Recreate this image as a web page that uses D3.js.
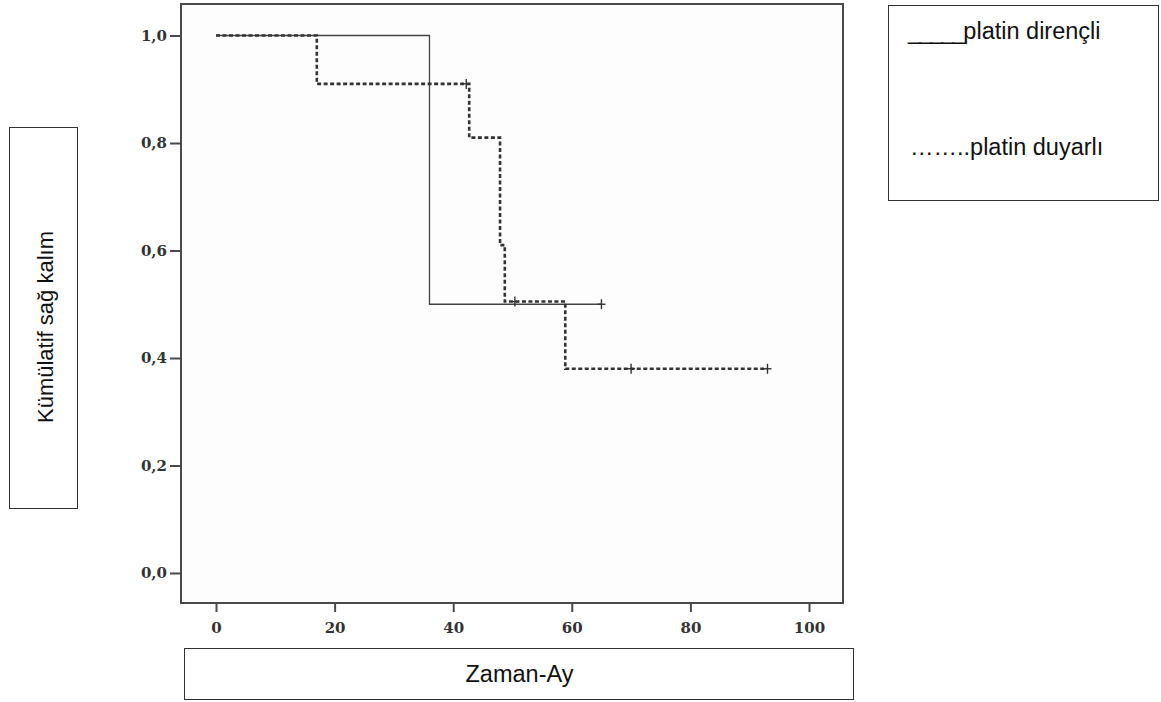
<!DOCTYPE html>
<html><head><meta charset="utf-8">
<script src="https://cdn.jsdelivr.net/npm/d3@7"></script>
<style>body{margin:0;background:#fff}svg{display:block}</style>
</head><body>
<svg id="c" width="1161" height="702"></svg>
<script>
// ---- data ----
const xTicks = [0, 20, 40, 60, 80, 100];
const yTicks = [0.0, 0.2, 0.4, 0.6, 0.8, 1.0];
const resistantStepTimes = [0, 36];
const resistantStepSurv = [1.0, 0.50];
const resistantEndTime = 65;
const resistantCensor = [65];
const sensitiveStepTimes = [0, 17, 42.7, 47.9, 48.7, 58.9];
const sensitiveStepSurv = [1.0, 0.91, 0.81, 0.61, 0.505, 0.38];
const sensitiveEndTime = 93;
const sensitiveCensor = [42.2, 50.4, 70, 93];
const yTitle = "Kümülatif sağ kalım";
const xTitle = "Zaman-Ay";
const legendPrefixes = ["_____", "……."];
const legendNames = ["platin dirençli", ".platin duyarlı"];

const svg = d3.select("#c");
const x = d3.scaleLinear().domain([0, 100]).range([216, 809]);
const y = d3.scaleLinear().domain([0, 1]).range([573, 35.5]);
const frame = {l: 181, t: 4, r: 843, b: 603};

// plot frame
svg.append("rect").attr("x", frame.l).attr("y", frame.t)
  .attr("width", frame.r - frame.l).attr("height", frame.b - frame.t)
  .attr("fill", "#fdfdfd").attr("stroke", "#4a4a4a").attr("stroke-width", 2);

const fmt = v => d3.format(".1f")(v).replace(".", ",");
const yAxis = svg.append("g").attr("transform", `translate(${frame.l},0)`)
  .call(d3.axisLeft(y).tickValues(yTicks).tickFormat(fmt).tickSize(11).tickPadding(3));
const xAxis = svg.append("g").attr("transform", `translate(0,${frame.b})`)
  .call(d3.axisBottom(x).tickValues(xTicks).tickSize(9).tickPadding(10));
[yAxis, xAxis].forEach(a => {
  a.select(".domain").remove();
  a.selectAll(".tick line").attr("stroke", "#4a4a4a").attr("stroke-width", 2);
  a.selectAll(".tick text").attr("fill", "#333")
    .style("font-family", "'DejaVu Serif', 'Liberation Serif', serif")
    .style("font-weight", "bold").style("font-size", "15px");
});

// survival curves
const stepLine = d3.line().x(d => x(d[0])).y(d => y(d[1])).curve(d3.curveStepAfter);
function pts(times, surv, end) {
  const p = times.map((t, i) => [t, surv[i]]);
  p.push([end, surv[surv.length - 1]]);
  return p;
}
function survAt(times, surv, t) {
  let s = surv[0];
  times.forEach((tt, i) => { if (tt <= t) s = surv[i]; });
  return s;
}
svg.append("path").datum(pts(resistantStepTimes, resistantStepSurv, resistantEndTime))
  .attr("d", stepLine).attr("fill", "none").attr("stroke", "#444").attr("stroke-width", 1.3);
svg.append("path").datum(pts(sensitiveStepTimes, sensitiveStepSurv, sensitiveEndTime))
  .attr("d", stepLine).attr("fill", "none").attr("stroke", "#333")
  .attr("stroke-width", 2.6).attr("stroke-dasharray", "4 2.5");

function censorMarks(list, times, surv) {
  const g = svg.append("g");
  g.selectAll("line.v").data(list).join("line").attr("class", "v")
    .attr("x1", d => x(d)).attr("x2", d => x(d))
    .attr("y1", d => y(survAt(times, surv, d)) - 5)
    .attr("y2", d => y(survAt(times, surv, d)) + 5)
    .attr("stroke", "#333").attr("stroke-width", 1.4);
  g.selectAll("line.h").data(list).join("line").attr("class", "h")
    .attr("x1", d => x(d) - 4).attr("x2", d => x(d) + 4)
    .attr("y1", d => y(survAt(times, surv, d)))
    .attr("y2", d => y(survAt(times, surv, d)))
    .attr("stroke", "#333").attr("stroke-width", 1.4);
}
censorMarks(resistantCensor, resistantStepTimes, resistantStepSurv);
censorMarks(sensitiveCensor, sensitiveStepTimes, sensitiveStepSurv);

const sans = "'Liberation Sans', Arial, sans-serif";
// y title box
svg.append("rect").attr("x", 9.5).attr("y", 127.5).attr("width", 68).attr("height", 381)
  .attr("fill", "none").attr("stroke", "#333").attr("stroke-width", 1);
svg.append("text").attr("transform", "translate(53,327) rotate(-90)")
  .attr("text-anchor", "middle").style("font-family", sans).style("font-size", "22px")
  .attr("fill", "#111").text(yTitle);

// x title box
svg.append("rect").attr("x", 184.5).attr("y", 648.5).attr("width", 669).attr("height", 51)
  .attr("fill", "none").attr("stroke", "#333").attr("stroke-width", 1);
svg.append("text").attr("x", 519.5).attr("y", 682).attr("text-anchor", "middle")
  .style("font-family", sans).style("font-size", "23.5px").attr("fill", "#111").text(xTitle);

// legend box
svg.append("rect").attr("x", 888.5).attr("y", 5.5).attr("width", 270).attr("height", 195)
  .attr("fill", "none").attr("stroke", "#333").attr("stroke-width", 1);
const leg = svg.selectAll("text.leg").data(legendNames).join("text").attr("class", "leg")
  .attr("x", (d, i) => i === 0 ? 908 : 910).attr("y", (d, i) => i === 0 ? 39 : 155)
  .style("font-family", sans).style("font-size", "23.5px").attr("fill", "#111");
leg.append("tspan").style("letter-spacing", (d, i) => i === 0 ? "-2px" : "0px")
  .text((d, i) => legendPrefixes[i]);
leg.append("tspan").text(d => d);
</script>
</body></html>
